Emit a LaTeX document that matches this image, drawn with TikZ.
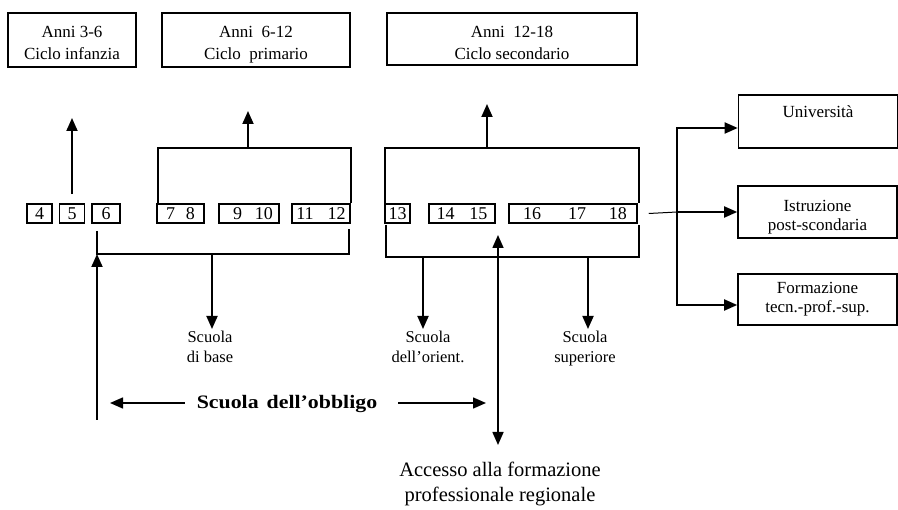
\documentclass[tikz,border=0pt]{standalone}
\usepackage{fontspec}
\setmainfont{Liberation Serif}
\newfontfamily\oblfont[FakeStretch=1.15,Ligatures=TeX]{Liberation Serif}
\usetikzlibrary{arrows.meta,calc}
\newcommand{\lowtext}[2]{\raisebox{#1}[\height][\depth]{\begin{tabular}{@{}c@{}}#2\end{tabular}}}
\begin{document}
\begin{tikzpicture}[x=1pt,y=-1pt,
  every node/.style={font=\fontsize{17}{22}\selectfont, inner sep=0pt},
  topbox/.style={draw, line width=1.6pt, align=center, minimum height=54pt},
  numbox/.style={draw, line width=1.5pt, minimum height=19pt, font=\fontsize{18}{20}\selectfont},
  rbox/.style={draw, line width=1.6pt, align=center, minimum width=159pt, font=\fontsize{17}{19}\selectfont},
  ln/.style={line width=1.8pt},
  arr/.style={line width=1.8pt, -{Triangle[length=13pt,width=11pt]}},
  darr/.style={line width=1.6pt, {Triangle[length=13pt,width=11pt]}-{Triangle[length=13pt,width=11pt]}},
  lbl/.style={align=center, anchor=north, font=\fontsize{16.5}{20}\selectfont}
]
\useasboundingbox (0,0) rectangle (898,510);

% top boxes
\node[topbox, minimum width=128pt] (c36) at (72,40) {\lowtext{-4pt}{Anni 3-6\\Ciclo infanzia}};
\node[topbox, minimum width=188pt] (c612) at (256,40) {\lowtext{-4pt}{Anni\ \ 6-12\\Ciclo\ \ primario}};
\node[topbox, minimum width=250pt, minimum height=52pt] (c1218) at (512,39) {\lowtext{-5pt}{Anni\ \ 12-18\\Ciclo secondario}};

% number boxes
\node[numbox, minimum width=25pt] (n4) at (39.5,213.5) {4};
\node[numbox, minimum width=25pt] (n5) at (72,213.5) {5};
\node[numbox, minimum width=28pt] (n6) at (106,213.5) {6};
\node[numbox, minimum width=47pt] (n78) at (180.5,213.5) {7\hspace{11pt}8};
\node[numbox, minimum width=60pt] (n910) at (249,213.5) {\hspace{8pt}9\hspace{13pt}10};
\node[numbox, minimum width=58pt] (n1112) at (321,213.5) {11\hspace{14pt}12};
\node[numbox, minimum width=25pt] (n13) at (397.5,213.5) {13};
\node[numbox, minimum width=66pt] (n1415) at (462,213.5) {14\hspace{15pt}15};
\node[numbox, minimum width=128pt] (n161718) at (573,213.5) {\hspace{4pt}16\hspace{27pt}17\hspace{23pt}18};

% helper coordinates
\coordinate (h1) at (0,148);
\coordinate (t36) at (72,118);
\coordinate (m612) at (248,148);
\coordinate (t612) at (248,111);
\coordinate (m1218) at (487,148);
\coordinate (t1218) at (487,104);

% upper brackets and arrows
\draw[arr, shorten <=9pt] (n5.north) -- (t36);
\draw[ln] ([xshift=2pt]n78.north west) -- ([xshift=2pt]n78.north west |- h1) -- (n1112.north east |- h1) -- (n1112.north east);
\draw[arr] (m612) -- (t612);
\draw[ln] ([xshift=1pt]n13.north west) -- ([xshift=1pt]n13.north west |- h1) -- ([xshift=1pt]n161718.north east |- h1) -- ([xshift=1pt]n161718.north east);
\draw[arr] (m1218) -- (t1218);

% lower bracket 1
\coordinate (l1a) at (97,231);
\coordinate (l1b) at (97,254);
\coordinate (l1c) at (349,254);
\coordinate (l1d) at (349,229);
\draw[ln] (l1a) -- (l1b) -- (l1c) -- (l1d);
\coordinate (m1) at (212,254);
\node[lbl] (sbase) at (210,331) {Scuola\\di base};
\draw[arr] (m1) -- ([yshift=2pt]m1 |- sbase.north);
\coordinate (low1) at (97,420);
\draw[arr] (low1) -- (l1b);

% lower bracket 2
\coordinate (l2a) at (386,225);
\coordinate (l2b) at (386,257);
\coordinate (l2c) at (639,257);
\coordinate (l2d) at (639,225);
\draw[ln] (l2a) -- (l2b) -- (l2c) -- (l2d);
\coordinate (m2a) at (423,257);
\coordinate (m2b) at (588,257);
\node[lbl] (sorient) at (428,331) {Scuola\\dell'orient.};
\node[lbl] (ssup) at (585,331) {Scuola\\superiore};
\draw[arr] (m2a) -- ([yshift=2pt]m2a |- sorient.north);
\draw[arr] (m2b) -- ([yshift=2pt]m2b |- ssup.north);

% access arrow
\coordinate (accT) at (498,235);
\coordinate (accB) at (498,445);
\draw[darr] (accT) -- (accB);
\node[align=center, font=\fontsize{20.5}{25}\selectfont] (acc) at (500,484) {Accesso alla formazione\\professionale regionale};

% scuola dell'obbligo
\node[font={\oblfont\bfseries\fontsize{19}{22}\selectfont}] (obl) at (287,404) {Scuola\hspace{8pt}dell'obbligo};
\coordinate (oL) at (110,403);
\coordinate (oR) at (486,403);
\draw[arr, line width=1.5pt] ([xshift=-12pt,yshift=1pt]obl.west) -- (oL);
\draw[arr, line width=1.5pt] ([xshift=21pt,yshift=1pt]obl.east) -- (oR);

% right boxes
\node[rbox, minimum height=53pt] (univ) at (818,121.5) {Università\\~};
\node[rbox, minimum height=52pt] (isti) at (817.5,212) {\lowtext{-5pt}{Istruzione\\post-scondaria}};
\node[rbox, minimum height=51pt] (form) at (817.5,299.5) {Formazione\\tecn.-prof.-sup.};

\coordinate (bus) at (677,212);
\draw[arr] (bus) |- ([yshift=-6.5pt]univ.west);
\draw[arr] (bus) |- ([yshift=-5.5pt]form.west);
\draw[line width=1pt] ([xshift=11pt]n161718.east) -- (bus);
\draw[arr] (bus) -- (isti.west);
\end{tikzpicture}
\end{document}
